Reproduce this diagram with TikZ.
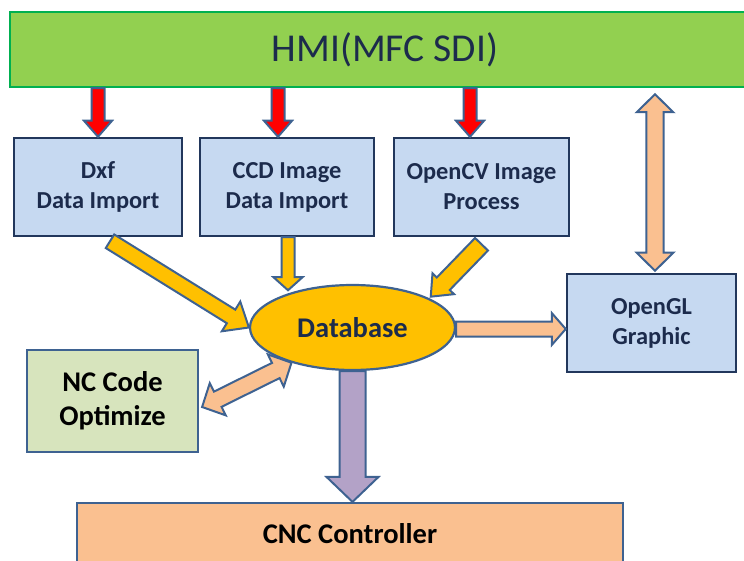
\documentclass[tikz,border=0pt]{standalone}
\usepackage{fontspec}
\setmainfont{Carlito}
\usepackage{tikz}
\usetikzlibrary{shapes.geometric, calc}
\definecolor{hmigreen}{HTML}{92D050}
\definecolor{hmiline}{HTML}{00B050}
\definecolor{boxblue}{HTML}{C6D9F1}
\definecolor{boxline}{HTML}{22375C}
\definecolor{navytext}{HTML}{1C2B4C}
\definecolor{steel}{HTML}{3E6291}
\definecolor{dbyellow}{HTML}{FFC000}
\definecolor{peach}{HTML}{FAC090}
\definecolor{lilac}{HTML}{B3A2C7}
\definecolor{ncgreen}{HTML}{D7E4BD}
\tikzstyle{hmibox} = [rectangle, minimum width=750pt, minimum height=75pt, draw=hmiline, line width=2.5pt, fill=hmigreen, text=navytext, font=\fontsize{39.5}{44}\selectfont]
\tikzstyle{modbox} = [rectangle, minimum width=170pt, minimum height=98pt, draw=boxline, line width=2.5pt, fill=boxblue, text=navytext, align=center, font=\fontsize{24.4}{30}\selectfont\bfseries]
\tikzstyle{database} = [ellipse, minimum width=205pt, minimum height=85pt, inner sep=0pt, draw=steel, line width=2.2pt, fill=dbyellow, text=navytext, font=\fontsize{28.5}{34}\selectfont\bfseries]
\tikzstyle{ncbox} = [rectangle, minimum width=171pt, minimum height=102pt, draw=steel, line width=2.2pt, fill=ncgreen, text=black, align=center, font=\fontsize{28.5}{34}\selectfont\bfseries]
\tikzstyle{cncbox} = [rectangle, minimum width=546pt, minimum height=62pt, draw=steel, line width=2.2pt, fill=peach, text=black, font=\fontsize{28.5}{34}\selectfont\bfseries]
\tikzstyle{redarrow} = [draw=steel, line width=2pt, fill=red]
\tikzstyle{yelarrow} = [draw=steel, line width=2pt, fill=dbyellow]
\tikzstyle{peacharrow} = [draw=steel, line width=2pt, fill=peach]
\tikzstyle{lilacarrow} = [draw=steel, line width=2pt, fill=lilac]
% block arrow: style, from, to, half shaft, half head, head length
\newcommand{\blockarrow}[6]{%
  \coordinate (ba-a) at #2;
  \coordinate (ba-b) at #3;
  \coordinate (ba-h) at ($(ba-b)!#6!(ba-a)$);
  \draw[#1] ($(ba-a)!#4!90:(ba-b)$) -- ($(ba-h)!#4!90:(ba-b)$) -- ($(ba-h)!#5!90:(ba-b)$) -- (ba-b)
    -- ($(ba-h)!#5!-90:(ba-b)$) -- ($(ba-h)!#4!-90:(ba-b)$) -- ($(ba-a)!#4!-90:(ba-b)$) -- cycle;
}
% same with a head at both ends
\newcommand{\dblarrow}[6]{%
  \coordinate (ba-a) at #2;
  \coordinate (ba-b) at #3;
  \coordinate (ba-g) at ($(ba-a)!#6!(ba-b)$);
  \coordinate (ba-h) at ($(ba-b)!#6!(ba-a)$);
  \draw[#1] (ba-a) -- ($(ba-g)!#5!90:(ba-b)$) -- ($(ba-g)!#4!90:(ba-b)$) -- ($(ba-h)!#4!90:(ba-b)$)
    -- ($(ba-h)!#5!90:(ba-b)$) -- (ba-b) -- ($(ba-h)!#5!-90:(ba-b)$) -- ($(ba-h)!#4!-90:(ba-b)$)
    -- ($(ba-g)!#4!-90:(ba-b)$) -- ($(ba-g)!#5!-90:(ba-b)$) -- cycle;
}

\begin{document}
\begin{tikzpicture}[x=1pt, y=-1pt]
\useasboundingbox (0,0) rectangle (744,561);
\clip (0,0) rectangle (744,561);
\node (hmi) [hmibox] at (385,49.5) {HMI(MFC SDI)};
\node (dxf) [modbox, minimum width=168pt] at (98,187) {Dxf\\Data Import};
\node (ccd) [modbox, minimum width=174pt] at (287,187) {CCD Image\\Data Import};
\node (cv) [modbox, minimum width=175pt] at (481.5,187) {OpenCV Image\\Process};
\node (gl) [modbox, minimum width=169pt] at (651.5,323) {OpenGL\\Graphic};
\node (db) [database] at (352.5,327.5) {Database};
\node (nc) [ncbox] at (112.5,401) {NC Code\\Optimize};
\node (cnc) [cncbox] at (350,534) {CNC Controller};
\blockarrow{redarrow}{(hmi.south -| dxf.north)}{(dxf.north)}{6.5pt}{14pt}{16pt}
\blockarrow{redarrow}{($(hmi.south -| ccd.north)+(-9,0)$)}{([xshift=-9pt]ccd.north)}{6.5pt}{14pt}{16pt}
\blockarrow{redarrow}{($(hmi.south -| cv.north)+(-11.5,0)$)}{([xshift=-11.5pt]cv.north)}{6.5pt}{14pt}{16pt}
\dblarrow{peacharrow}{($(hmi.south -| gl.north)+(3.5,6)$)}{([xshift=3.5pt,yshift=2pt]gl.north)}{8.7pt}{18.3pt}{18pt}
\blockarrow{yelarrow}{([xshift=12pt,yshift=-4pt]dxf.south)}{(db.west)}{8pt}{17.5pt}{21pt}
\blockarrow{yelarrow}{([xshift=1pt]ccd.south)}{($(ccd.south)+(1,53)$)}{6.5pt}{14.5pt}{13pt}
\blockarrow{yelarrow}{([yshift=-7pt]cv.south)}{([xshift=5pt]db.north east)}{9pt}{15pt}{18pt}
\blockarrow{peacharrow}{([yshift=-1.5pt]db.east)}{([yshift=-1.5pt]db.east -| gl.west)}{7.5pt}{16pt}{14pt}
\dblarrow{peacharrow}{([xshift=3pt,yshift=-6pt]nc.east)}{(db.210)}{8.5pt}{18pt}{17.5pt}
\blockarrow{lilacarrow}{(db.south)}{(db.south |- cnc.north)}{13pt}{26pt}{25pt}
\end{tikzpicture}
\end{document}
